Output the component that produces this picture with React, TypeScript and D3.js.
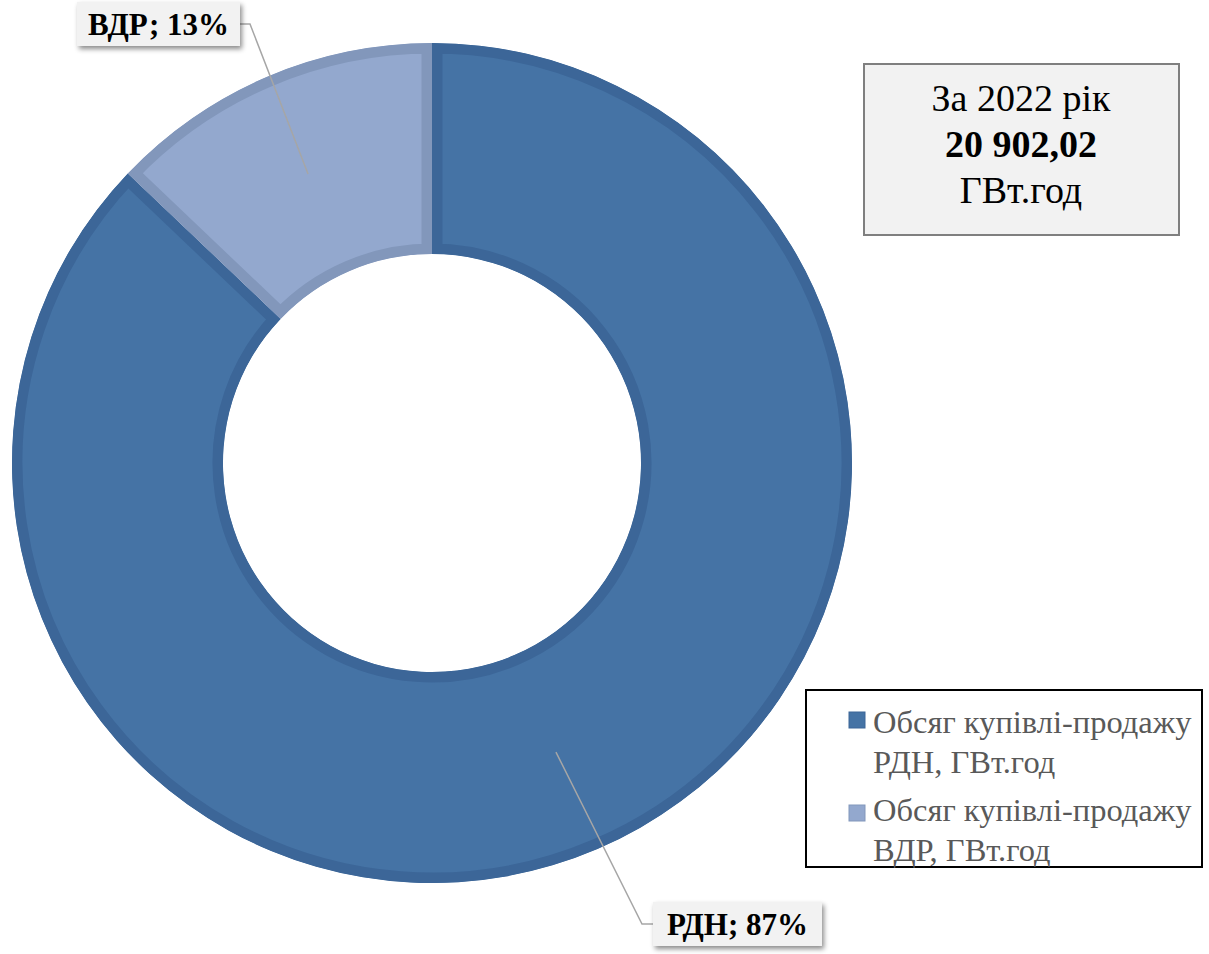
import React from "react";
import * as d3 from "d3";

const categories = ["РДН", "ВДР"];
const values = [18207.02, 2695.0];
const percentLabels = ["87%", "13%"];
const legendLines = [
  ["Обсяг купівлі-продажу", "РДН, ГВт.год"],
  ["Обсяг купівлі-продажу", "ВДР, ГВт.год"],
];
const titleLines = ["За 2022 рік", "20 902,02", "ГВт.год"];
const fillColors = ["#4573a5", "#93a8ce"];
const strokeColors = ["#3c6698", "#8297bb"];

const W = 1209;
const H = 954;
const cx = 432;
const cy = 463;
const outerR = 420;
const innerR = 209;
const FONT = "'Liberation Serif', 'Times New Roman', serif";

export default function App() {
  const pie = d3
    .pie<number>()
    .sort(null)
    .value((d) => d)
    .startAngle(0)
    .endAngle(2 * Math.PI);
  const arcs = pie(values);
  const arcGen = d3
    .arc<d3.PieArcDatum<number>>()
    .innerRadius(innerR)
    .outerRadius(outerR);

  const labelBoxes = [
    { x: 653, y: 902, w: 169, h: 44, side: "left" },
    { x: 77, y: 2, w: 163, h: 44, side: "right" },
  ];

  return (
    <svg
      width={W}
      height={H}
      style={{ position: "absolute", left: 0, top: 0, background: "#fff" }}
      fontFamily={FONT}
    >
      <defs>
        {arcs.map((a, i) => (
          <clipPath id={`clip${i}`} key={i}>
            <path d={arcGen(a) || ""} transform={`translate(${cx},${cy})`} />
          </clipPath>
        ))}
        <filter id="shadow" x="-20%" y="-30%" width="140%" height="170%">
          <feDropShadow dx="2" dy="3" stdDeviation="2.5" floodColor="#000" floodOpacity="0.45" />
        </filter>
      </defs>

      {arcs.map((a, i) => (
        <g key={i} clipPath={`url(#clip${i})`}>
          <path
            d={arcGen(a) || ""}
            transform={`translate(${cx},${cy})`}
            fill={fillColors[i]}
            stroke={strokeColors[i]}
            strokeWidth={21}
            strokeLinejoin="miter"
          />
        </g>
      ))}

      {arcs.map((a, i) => {
        const [px, py] = arcGen.centroid(a);
        const b = labelBoxes[i];
        const ay = b.y + b.h / 2;
        const bx = b.side === "left" ? b.x : b.x + b.w;
        const kx = b.side === "left" ? bx - 11 : bx + 10;
        return (
          <polyline
            key={i}
            points={`${cx + px},${cy + py} ${kx},${ay} ${bx},${ay}`}
            fill="none"
            stroke="#a6a6a6"
            strokeWidth={1.5}
          />
        );
      })}

      {arcs.map((a, i) => {
        const b = labelBoxes[i];
        return (
          <g key={i}>
            <rect x={b.x} y={b.y} width={b.w} height={b.h} fill="#f2f2f2" filter="url(#shadow)" />
            <text
              x={b.x + b.w / 2}
              y={b.y + 33}
              textAnchor="middle"
              fontSize={31}
              fontWeight="bold"
              fill="#000"
            >
              {`${categories[i]}; ${percentLabels[i]}`}
            </text>
          </g>
        );
      })}

      <rect x={864} y={64} width={315} height={171} fill="#f2f2f2" stroke="#7f7f7f" strokeWidth={2} />
      {titleLines.map((t, i) => (
        <text
          key={i}
          x={1021}
          y={111 + i * 46}
          textAnchor="middle"
          fontSize={38}
          fontWeight={i === 1 ? "bold" : "normal"}
          fill="#000"
        >
          {t}
        </text>
      ))}

      <rect x={806} y={690} width={396} height={177} fill="#fff" stroke="#000" strokeWidth={2} />
      {legendLines.map((lines, i) => (
        <g key={i}>
          <rect x={849} y={712 + i * 93} width={16} height={16} fill={fillColors[i]} stroke={strokeColors[i]} strokeWidth={1} />
          {lines.map((l, j) => (
            <text key={j} x={873} y={733 + i * 88 + j * 40} fontSize={32.5} fill="#595959">
              {l}
            </text>
          ))}
        </g>
      ))}
    </svg>
  );
}
